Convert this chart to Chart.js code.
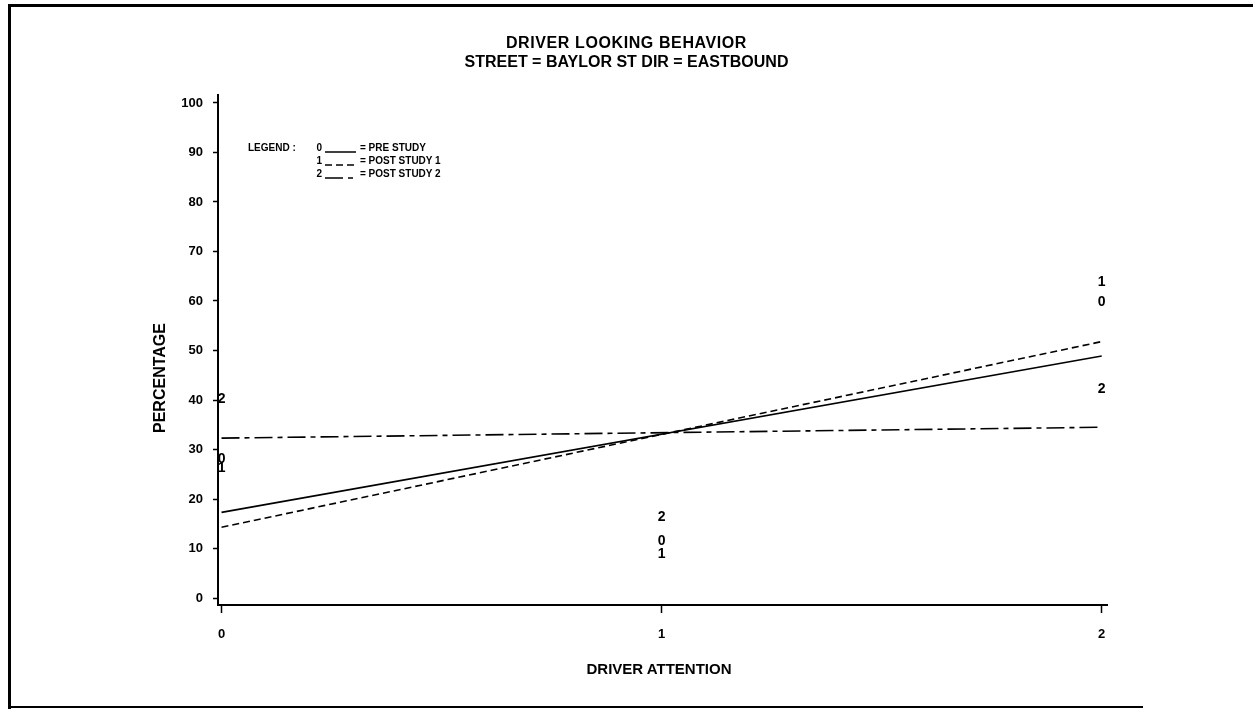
<!DOCTYPE html>
<html>
<head>
<meta charset="utf-8">
<script src="https://cdn.jsdelivr.net/npm/chart.js@4/dist/chart.umd.min.js"></script>
<style>
html,body{margin:0;padding:0;background:#fff;}
#wrap{position:relative;width:1253px;height:713px;overflow:hidden;font-family:"Liberation Sans",Arial,sans-serif;color:#000;}
#chart{position:absolute;left:0;top:0;}
.frame{position:absolute;left:8px;top:4px;width:1245px;height:705px;border-left:3px solid #000;border-top:3px solid #000;box-sizing:border-box;}
.bottomline{position:absolute;left:8px;top:706px;width:1135px;height:2px;background:#000;}
.title{position:absolute;left:0;width:1253px;text-align:center;font-weight:bold;font-size:16px;line-height:18px;}
.xtitle{position:absolute;left:559px;width:200px;top:660px;text-align:center;font-weight:bold;font-size:15px;line-height:18px;}
.ytitle{position:absolute;left:160px;top:378px;transform:translate(-50%,-50%) rotate(-90deg);font-weight:bold;font-size:16px;white-space:nowrap;}
.lrow{position:absolute;left:0;height:12px;font-weight:bold;font-size:10px;line-height:12px;white-space:nowrap;}
.lrow .lab{position:absolute;right:0;text-align:right;}
.lrow svg{position:absolute;left:0;top:0;}
.lrow .txt{position:absolute;left:0;}
</style>
</head>
<body>
<div id="wrap">
  <canvas id="chart" width="1253" height="713"></canvas>
  <div class="frame"></div>
  <div class="bottomline"></div>
  <div class="title" style="top:34px;letter-spacing:0.6px">DRIVER LOOKING BEHAVIOR</div>
  <div class="title" style="top:53px">STREET = BAYLOR ST DIR = EASTBOUND</div>
  <div class="xtitle">DRIVER ATTENTION</div>
  <div class="ytitle">PERCENTAGE</div>
  <div class="lrow" style="top:142px;left:248px">LEGEND :</div>
  <div id="legend"></div>
</div>
<script>
// ---- data ----
const xCategories = [0, 1, 2];
const preStudy    = [28.1, 11.4, 59.7];
const postStudy1  = [26.3, 8.9, 63.8];
const postStudy2  = [40.2, 16.4, 42.2];
const fitX        = [0, 2];
const preFit      = [17.3, 48.9];
const post1Fit    = [14.3, 51.8];
const post2Fit    = [32.3, 34.5];
const xTicks = [0, 1, 2];
const yTicks = [0, 10, 20, 30, 40, 50, 60, 70, 80, 90, 100];
const seriesLabels = ['PRE STUDY', 'POST STUDY 1', 'POST STUDY 2'];
const markerSymbols = ['0', '1', '2'];
const dashStyles = [[], [7, 4], [18, 5, 5, 5]];

const toPts = (xs, ys) => xs.map((x, i) => ({x: x, y: ys[i]}));
const fits = [preFit, post1Fit, post2Fit];
const pts = [preStudy, postStudy1, postStudy2];

const datasets = [];
fits.forEach((f, i) => {
  datasets.push({
    label: seriesLabels[i] + ' fit',
    data: toPts(fitX, f),
    showLine: true,
    borderColor: '#000',
    borderWidth: 1.6,
    borderDash: dashStyles[i],
    pointRadius: 0,
    fill: false
  });
});
pts.forEach((p, i) => {
  datasets.push({
    label: seriesLabels[i],
    data: toPts(xCategories, p),
    showLine: false,
    pointRadius: 0,
    markerText: markerSymbols[i]
  });
});

const markerPlugin = {
  id: 'markers',
  afterDatasetsDraw(chart) {
    const ctx = chart.ctx;
    chart.data.datasets.forEach((ds, i) => {
      if (!ds.markerText) return;
      const meta = chart.getDatasetMeta(i);
      ctx.save();
      ctx.font = 'bold 14px "Liberation Sans", Arial, sans-serif';
      ctx.fillStyle = '#000';
      ctx.textAlign = 'center';
      ctx.textBaseline = 'middle';
      meta.data.forEach(el => ctx.fillText(ds.markerText, el.x, el.y));
      ctx.restore();
    });
  }
};

const tickFont = {family: '"Liberation Sans", Arial, sans-serif', size: 13, weight: 'bold'};

new Chart(document.getElementById('chart'), {
  type: 'scatter',
  data: {datasets: datasets},
  plugins: [markerPlugin],
  options: {
    responsive: false,
    animation: false,
    layout: {padding: {left: 0, top: 95, right: 146, bottom: 0}},
    plugins: {legend: {display: false}, tooltip: {enabled: false}, title: {display: false}},
    scales: {
      x: {
        type: 'linear',
        min: -0.008,
        max: 2.012,
        afterBuildTicks: s => { s.ticks = xTicks.map(v => ({value: v})); },
        afterFit: s => { s.height = 108; },
        ticks: {font: tickFont, color: '#000', padding: 14, callback: v => String(v)},
        grid: {drawOnChartArea: false, drawTicks: true, tickLength: 8, tickColor: '#000', tickWidth: 1.5},
        border: {display: true, color: '#000', width: 2}
      },
      y: {
        type: 'linear',
        min: -1.4,
        max: 101.6,
        afterBuildTicks: s => { s.ticks = yTicks.map(v => ({value: v})); },
        afterFit: s => { s.width = 218; },
        ticks: {font: tickFont, color: '#000', padding: 10, callback: v => String(v)},
        grid: {drawOnChartArea: false, drawTicks: true, tickLength: 5, tickColor: '#000', tickWidth: 1.5},
        border: {display: true, color: '#000', width: 2}
      }
    }
  }
});

// ---- legend (upper left, SAS style) ----
const legend = document.getElementById('legend');
const rowTops = [142, 155, 168];
const svgDash = ['', '7,4', '18,5,5,5'];
seriesLabels.forEach((lab, i) => {
  const top = rowTops[i];
  const labBox = document.createElement('div');
  labBox.className = 'lrow';
  labBox.style.top = top + 'px';
  labBox.style.left = '0px';
  labBox.style.width = '322px';
  labBox.innerHTML = '<span class="lab">' + markerSymbols[i] + '</span>';
  legend.appendChild(labBox);
  const sample = document.createElement('div');
  sample.className = 'lrow';
  sample.style.top = top + 'px';
  sample.style.left = '325px';
  sample.innerHTML = '<svg width="32" height="12"><line x1="0" y1="10" x2="31" y2="10" stroke="#000" stroke-width="1.5"' +
    (svgDash[i] ? ' stroke-dasharray="' + svgDash[i] + '"' : '') + '/></svg>';
  legend.appendChild(sample);
  const txt = document.createElement('div');
  txt.className = 'lrow';
  txt.style.top = top + 'px';
  txt.style.left = '360px';
  txt.innerHTML = '<span class="txt">= ' + lab + '</span>';
  legend.appendChild(txt);
});
</script>
</body>
</html>
